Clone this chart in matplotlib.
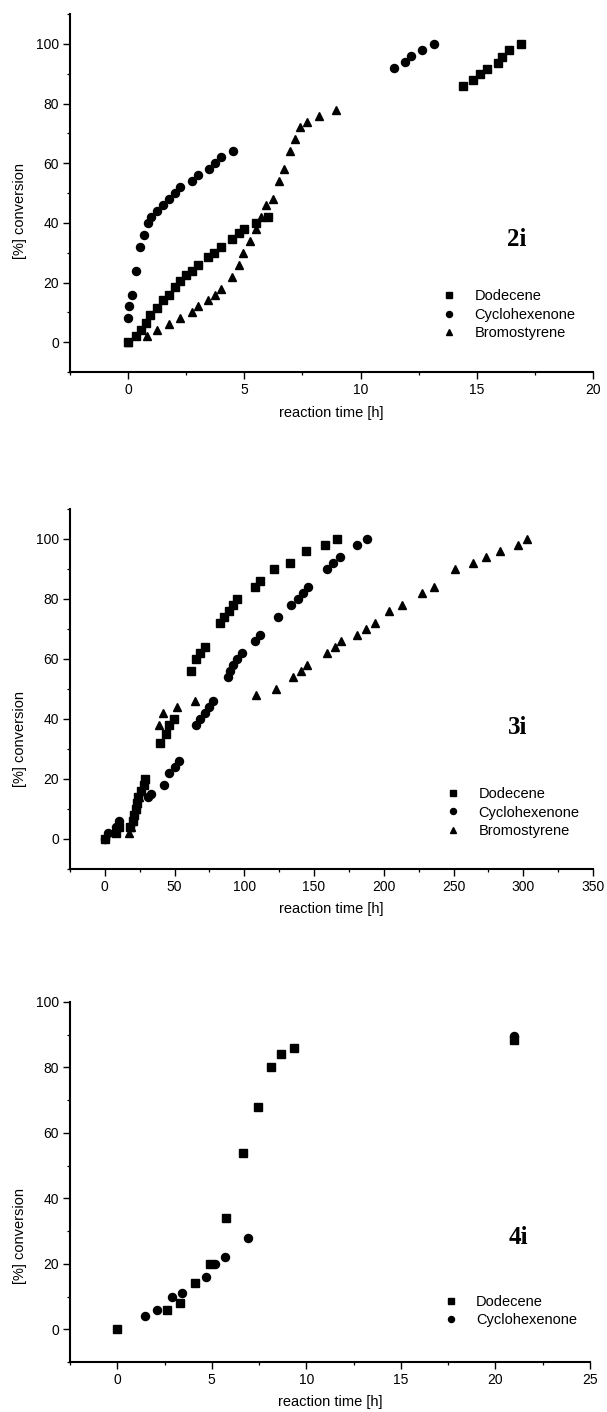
import matplotlib
matplotlib.use("Agg")
import matplotlib.pyplot as plt
from matplotlib.ticker import MultipleLocator

plt.rcParams['font.family'] = ['Liberation Sans', 'DejaVu Sans']

# ---- panel 2i ----
p1_dod_t = [0, 0.33, 0.55, 0.75, 0.95, 1.25, 1.5, 1.75, 2.0, 2.25, 2.5, 2.75, 3.0, 3.45, 3.7, 4.0,
            4.45, 4.75, 5.0, 5.5, 6.0, 14.4, 14.85, 15.15, 15.45, 15.9, 16.1, 16.4, 16.9]
p1_dod_c = [0, 2, 4, 6.5, 9, 11.5, 14, 16, 18.5, 20.5, 22.5, 24, 26, 28.5, 30, 32,
            34.5, 36.5, 38, 40, 42, 86, 88, 90, 91.5, 93.5, 95.5, 98, 100]
p1_cyc_t = [0, 0.05, 0.15, 0.35, 0.5, 0.7, 0.85, 1.0, 1.25, 1.5, 1.75, 2.0, 2.25, 2.75, 3.0,
            3.5, 3.75, 4.0, 4.5, 11.45, 11.9, 12.15, 12.65, 13.15]
p1_cyc_c = [8, 12, 16, 24, 32, 36, 40, 42, 44, 46, 48, 50, 52, 54, 56,
            58, 60, 62, 64, 92, 94, 96, 98, 100]
p1_bro_t = [0, 0.83, 1.25, 1.75, 2.25, 2.75, 3.0, 3.45, 3.75, 4.0, 4.45, 4.75, 4.95, 5.25, 5.5,
            5.7, 5.95, 6.25, 6.5, 6.7, 6.95, 7.2, 7.4, 7.7, 8.2, 8.95]
p1_bro_c = [0, 2, 4, 6, 8, 10, 12, 14, 16, 18, 22, 26, 30, 34, 38,
            42, 46, 48, 54, 58, 64, 68, 72, 74, 76, 78]

# ---- panel 3i ----
p2_dod_t = [0, 8, 10, 18, 20, 21, 22, 23, 24, 26, 28, 29, 39.5, 43.5, 46, 49.5, 61.5, 65, 68.5,
            71.5, 82.5, 85.5, 89, 92, 95, 108, 111, 121, 132.5, 144.5, 157.5, 166.5]
p2_dod_c = [0, 2, 4, 4, 6, 8, 10, 12, 14, 16, 18, 20, 32, 35, 38, 40, 56, 60, 62,
            64, 72, 74, 76, 78, 80, 84, 86, 90, 92, 96, 98, 100]
p2_cyc_t = [0, 2, 8, 10, 31, 33, 42.5, 46, 50.5, 53, 65.5, 68.5, 71.5, 74.5, 77.5, 88.5, 90, 92,
            95, 98.5, 108, 111, 124, 133.5, 138.5, 142, 145.5, 159.5, 163.5, 168.5, 180.5, 188]
p2_cyc_c = [0, 2, 4, 6, 14, 15, 18, 22, 24, 26, 38, 40, 42, 44, 46, 54, 56, 58,
            60, 62, 66, 68, 74, 78, 80, 82, 84, 90, 92, 94, 98, 100]
p2_bro_t = [17, 18.5, 19.5, 21, 22, 23, 24.5, 26, 38.5, 42, 51.5, 64.5, 108.5, 122.5, 135, 141,
            145, 159, 165, 169.5, 181, 187, 194, 204, 213, 227.5, 236, 251, 264, 273, 283, 296.5, 303]
p2_bro_c = [2, 4, 6, 8, 10, 12, 14, 16, 38, 42, 44, 46, 48, 50, 54, 56,
            58, 62, 64, 66, 68, 70, 72, 76, 78, 82, 84, 90, 92, 94, 96, 98, 100]

# ---- panel 4i ----
p3_dod_t = [0, 2.65, 3.3, 4.1, 4.9, 5.75, 6.65, 7.45, 8.15, 8.65, 9.35, 21.0]
p3_dod_c = [0, 6, 8, 14, 20, 34, 54, 68, 80, 84, 86, 88.5]
p3_cyc_t = [1.45, 2.1, 2.9, 3.4, 4.7, 5.15, 5.7, 6.9, 21.0]
p3_cyc_c = [4, 6, 10, 11, 16, 20, 22, 28, 89.5]

panels = [
    dict(rect=[0.1153, 0.7365, 0.8616, 0.2535], xlim=(-2.5, 20), ylim=(-10, 110),
         xmaj=5, xmin=2.5, tag='2i', tagpos=(0.855, 0.369), legpos=(0.711, 0.232), ylab_y=0.45,
         series=[('Dodecene', 's', p1_dod_t, p1_dod_c),
                 ('Cyclohexenone', 'o', p1_cyc_t, p1_cyc_c),
                 ('Bromostyrene', '^', p1_bro_t, p1_bro_c)]),
    dict(rect=[0.1153, 0.3846, 0.8616, 0.2550], xlim=(-25, 350), ylim=(-10, 110),
         xmaj=50, xmin=25, tag='3i', tagpos=(0.855, 0.392), legpos=(0.718, 0.228), ylab_y=0.36,
         series=[('Dodecene', 's', p2_dod_t, p2_dod_c),
                 ('Cyclohexenone', 'o', p2_cyc_t, p2_cyc_c),
                 ('Bromostyrene', '^', p2_bro_t, p2_bro_c)]),
    dict(rect=[0.1153, 0.0354, 0.8567, 0.2550], xlim=(-2.5, 25), ylim=(-10, 100),
         xmaj=5, xmin=2.5, tag='4i', tagpos=(0.862, 0.347), legpos=(0.718, 0.187), ylab_y=0.35,
         series=[('Dodecene', 's', p3_dod_t, p3_dod_c),
                 ('Cyclohexenone', 'o', p3_cyc_t, p3_cyc_c)]),
]

msize = {'s': 5.2, 'o': 5.8, '^': 6.0}

fig = plt.figure(figsize=(6.07, 14.12), dpi=100)

for p in panels:
    ax = fig.add_axes(p['rect'])
    for name, mk, t, c in p['series']:
        ax.plot(t, c, linestyle='none', marker=mk, color='black', markersize=msize[mk], label=name)
    ax.set_xlim(*p['xlim'])
    ax.set_ylim(*p['ylim'])
    ax.xaxis.set_major_locator(MultipleLocator(p['xmaj']))
    ax.xaxis.set_minor_locator(MultipleLocator(p['xmin']))
    ax.yaxis.set_major_locator(MultipleLocator(20))
    ax.yaxis.set_minor_locator(MultipleLocator(10))
    ax.spines['top'].set_visible(False)
    ax.spines['right'].set_visible(False)
    for s in ('left', 'bottom'):
        ax.spines[s].set_linewidth(1.5)
    ax.tick_params(which='major', direction='out', length=5, width=1.0, labelsize=10, pad=3)
    ax.tick_params(which='minor', direction='out', length=2.5, width=0.9)
    ax.set_xlabel('reaction time [h]', fontsize=10.5, labelpad=6)
    ax.set_ylabel('[%] conversion', fontsize=10.5)
    ax.yaxis.set_label_coords(-0.082, p['ylab_y'])
    ax.text(p['tagpos'][0], p['tagpos'][1], p['tag'], transform=ax.transAxes,
            family='Liberation Serif', fontweight='bold', fontsize=18, ha='center', va='center')
    ax.legend(loc='upper left', bbox_to_anchor=p['legpos'], frameon=False, fontsize=10.5,
              handlelength=1.0, handletextpad=1.25, labelspacing=0.32, markerscale=0.75,
              borderpad=0, borderaxespad=0)

fig.savefig('out.png', dpi=100)
